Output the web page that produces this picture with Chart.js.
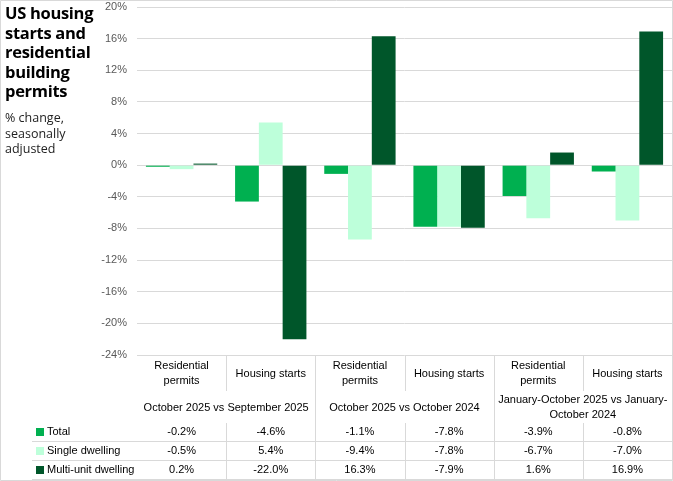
<!DOCTYPE html>
<html>
<head>
<meta charset="utf-8">
<script src="https://cdn.jsdelivr.net/npm/chart.js@4"></script>
<style>
  body { margin: 0; background: #fff; }
  #wrap { position: relative; width: 673px; height: 481px; }
  #title {
    position: absolute; left: 5px; top: 3px; width: 95px;
    font-family: "Open Sans", sans-serif; font-weight: bold; font-size: 16.5px;
    line-height: 19.5px; color: #000; letter-spacing: -0.3px;
  }
  #sub {
    position: absolute; left: 5px; top: 110px; width: 95px;
    font-family: "Open Sans", sans-serif; font-size: 12.5px; line-height: 15.5px; color: #222;
  }
</style>
</head>
<body>
<div id="wrap">
  <canvas id="chart" width="673" height="481"></canvas>
  <div id="title">US housing starts and residential building permits</div>
  <div id="sub">% change, seasonally adjusted</div>
</div>
<script>
const categories = ["Residential permits", "Housing starts", "Residential permits", "Housing starts", "Residential permits", "Housing starts"];
const categoryLines = [["Residential", "permits"], ["Housing starts"], ["Residential", "permits"], ["Housing starts"], ["Residential", "permits"], ["Housing starts"]];
const groupLines = [["October 2025 vs September 2025"], ["October 2025 vs October 2024"], ["January-October 2025 vs January-", "October 2024"]];
const seriesNames = ["Total", "Single dwelling", "Multi-unit dwelling"];
const total = [-0.2, -4.6, -1.1, -7.8, -3.9, -0.8];
const single = [-0.5, 5.4, -9.4, -7.8, -6.7, -7.0];
const multi = [0.2, -22.0, 16.3, -7.9, 1.6, 16.9];
const colors = ["#00B050", "#BDFFDA", "#00562A"];

const lineColor = "#d9d9d9";
const font = "11px 'Liberation Sans', Arial, sans-serif";

const tablePlugin = {
  id: "table",
  afterDraw(chart) {
    const ctx = chart.ctx;
    const x = chart.scales.x;
    const area = chart.chartArea;
    const n = categories.length;
    const step = (area.right - area.left) / n;
    const edge = (i) => Math.round(area.left + step * i) + 0.5;
    const top = Math.round(area.bottom) + 0.5;

    ctx.save();
    ctx.strokeStyle = lineColor;
    ctx.lineWidth = 1;
    ctx.beginPath();
    // category label separators
    for (let i = 1; i <= n; i++) {
      ctx.moveTo(edge(i), top);
      ctx.lineTo(edge(i), 391);
    }
    // group separators
    for (let g = 1; g <= 3; g++) {
      ctx.moveTo(edge(g * 2), top);
      ctx.lineTo(edge(g * 2), 479);
    }
    // data cell separators
    for (let i = 1; i <= n; i++) {
      ctx.moveTo(edge(i), 423);
      ctx.lineTo(edge(i), 479);
    }
    [441.5, 460.5, 479.5].forEach((y) => {
      ctx.moveTo(32, y);
      ctx.lineTo(area.right, y);
    });
    // outer frame
    ctx.rect(0.5, 0.5, 672, 480);
    ctx.stroke();

    ctx.fillStyle = "#000";
    ctx.font = font;
    ctx.textAlign = "center";
    ctx.textBaseline = "middle";
    categoryLines.forEach((lines, i) => {
      const cx = x.getPixelForValue(i);
      if (lines.length === 1) {
        ctx.fillText(lines[0], cx, 374);
      } else {
        ctx.fillText(lines[0], cx, 366);
        ctx.fillText(lines[1], cx, 381);
      }
    });
    groupLines.forEach((lines, g) => {
      const cx = (x.getPixelForValue(g * 2) + x.getPixelForValue(g * 2 + 1)) / 2;
      if (lines.length === 1) {
        ctx.fillText(lines[0], cx, 408);
      } else {
        ctx.fillText(lines[0], cx, 400);
        ctx.fillText(lines[1], cx, 415);
      }
    });
    const rows = [total, single, multi];
    const rowY = [432, 451, 470];
    rows.forEach((vals, r) => {
      vals.forEach((v, i) => {
        ctx.fillText(v.toFixed(1) + "%", x.getPixelForValue(i), rowY[r]);
      });
      ctx.fillStyle = colors[r];
      ctx.fillRect(36, rowY[r] - 4, 8, 8);
      ctx.fillStyle = "#000";
      ctx.textAlign = "left";
      ctx.fillText(seriesNames[r], 47, rowY[r]);
      ctx.textAlign = "center";
    });
    ctx.restore();
  },
};

new Chart(document.getElementById("chart"), {
  type: "bar",
  data: {
    labels: categories,
    datasets: [
      { label: seriesNames[0], data: total, backgroundColor: colors[0] },
      { label: seriesNames[1], data: single, backgroundColor: colors[1] },
      { label: seriesNames[2], data: multi, backgroundColor: colors[2] },
    ],
  },
  options: {
    responsive: false,
    animation: false,
    categoryPercentage: 0.8,
    barPercentage: 1.0,
    layout: { padding: { left: 0, right: 1, top: 7, bottom: 126 } },
    plugins: { legend: { display: false }, tooltip: { enabled: false } },
    scales: {
      x: { display: false },
      y: {
        min: -24,
        max: 20,
        afterFit: (scale) => {
          scale.width = 137;
          scale.paddingTop = 0;
          scale.paddingBottom = 0;
        },
        ticks: {
          stepSize: 4,
          padding: 10,
          color: "#595959",
          font: { family: "'Liberation Sans', Arial, sans-serif", size: 11 },
          callback: (v) => v + "%",
        },
        border: { display: false },
        grid: { color: lineColor, drawTicks: false },
      },
    },
  },
  plugins: [tablePlugin],
});
</script>
</body>
</html>
